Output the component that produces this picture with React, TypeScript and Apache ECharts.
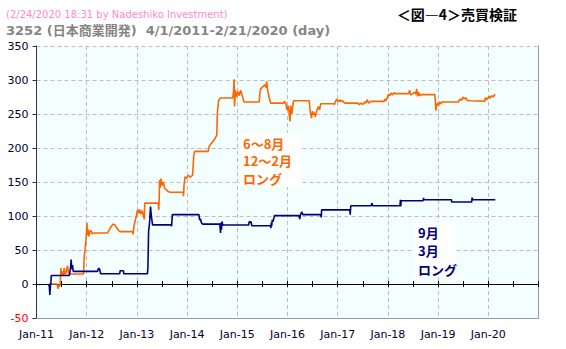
import React, { useEffect, useRef } from 'react';
import * as echarts from 'echarts';

// ---- data ----
const orangeDates: string[] = [
  '2011-04-01','2011-05-29','2011-06-08','2011-06-14','2011-06-22','2011-06-27','2011-07-02','2011-07-09','2011-07-14','2011-07-21',
  '2011-07-27','2011-08-03','2011-08-09','2011-08-15','2011-08-20','2011-08-26','2011-08-31','2011-12-09','2011-12-14','2011-12-27',
  '2012-01-03','2012-01-06','2012-01-13','2012-01-18','2012-01-24','2012-02-01','2012-02-10','2012-02-25','2012-05-31','2012-06-10',
  '2012-06-20','2012-07-02','2012-07-12','2012-07-25','2012-08-05','2012-08-20','2012-08-31','2012-11-30','2012-12-05','2012-12-10',
  '2012-12-18','2012-12-28','2013-01-05','2013-01-12','2013-01-20','2013-01-28','2013-02-08','2013-02-18','2013-02-24','2013-02-27',
  '2013-06-05','2013-06-09','2013-06-12','2013-06-15','2013-06-20','2013-06-25','2013-07-03','2013-07-12','2013-07-22','2013-08-02',
  '2013-08-16','2013-08-31','2013-12-03','2013-12-06','2013-12-10','2013-12-18','2013-12-26','2014-01-10','2014-01-24','2014-02-10',
  '2014-02-18','2014-02-25','2014-06-03','2014-06-10','2014-06-20','2014-07-09','2014-07-20','2014-08-05','2014-08-09','2014-08-18',
  '2014-08-31','2014-11-28','2014-12-04','2014-12-09','2014-12-12','2014-12-18','2014-12-25','2015-01-05','2015-01-15','2015-01-25',
  '2015-02-05','2015-02-15','2015-02-20','2015-06-09','2015-06-14','2015-06-19','2015-07-05','2015-07-20','2015-07-28','2015-08-02',
  '2015-08-10','2015-08-21','2015-08-31','2015-12-05','2015-12-10','2015-12-20','2015-12-28','2016-01-08','2016-01-19','2016-01-25',
  '2016-02-02','2016-02-10','2016-02-15','2016-06-08','2016-06-12','2016-06-17','2016-06-24','2016-07-01','2016-07-08','2016-07-15',
  '2016-07-22','2016-08-01','2016-08-13','2016-08-22','2016-08-30','2016-12-05','2016-12-08','2016-12-15','2016-12-24','2017-01-05',
  '2017-01-15','2017-01-25','2017-02-05','2017-02-15','2017-02-22','2017-05-30','2017-06-03','2017-06-20','2017-07-05','2017-07-15',
  '2017-07-25','2017-08-03','2017-08-15','2017-08-31','2017-12-05','2017-12-10','2017-12-20','2018-01-05','2018-01-15','2018-01-25',
  '2018-02-05','2018-02-15','2018-02-25','2018-06-01','2018-06-08','2018-06-15','2018-07-01','2018-07-15','2018-07-25','2018-07-29',
  '2018-08-05','2018-08-12','2018-08-20','2018-08-31','2018-12-08','2018-12-12','2018-12-16','2018-12-20','2018-12-28','2019-01-05',
  '2019-01-10','2019-01-20','2019-02-01','2019-02-10','2019-05-27','2019-06-10','2019-06-20','2019-07-01','2019-07-10','2019-07-20',
  '2019-08-01','2019-08-20','2019-12-07','2019-12-10','2019-12-20','2020-01-05','2020-01-15','2020-01-25','2020-02-05','2020-02-15',
  '2020-02-21'
];
const orangeValues: number[] = [
  0, 0, -7, -1, -3, 23.5, 12, 18.5, 13, 23.5,
  14, 16, 22, 27, 17, 15, 14.7, 14.7, 40, 65,
  90, 72, 80, 70, 77, 79, 74, 75, 75, 78,
  82, 86, 88, 87, 83, 79, 77, 77, 73, 84,
  92, 100, 109, 104, 110, 103, 108, 100, 95, 119,
  119, 109, 124, 153, 142, 155, 145, 150, 141, 139,
  136, 135, 135, 129, 146, 158, 155, 160, 157, 160,
  188, 195, 195, 202, 205, 210, 213, 219, 251, 270,
  273.5, 273.5, 281, 301, 261, 285, 275, 283, 277, 285,
  278, 270, 267.6, 267.6, 280, 287, 290, 293, 289, 298,
  285, 273.5, 266, 266, 268.5, 266, 256, 262, 239, 262,
  250, 265, 269.5, 269.5, 258, 251.5, 244, 254, 249, 252,
  246, 255, 261, 256, 265, 265, 263.5, 268, 272, 268,
  271, 268, 270, 267, 266, 266, 263.5, 266, 264, 268,
  266, 271, 266, 268.5, 268.5, 272, 270, 279, 277, 281,
  278, 281.5, 280, 280, 285, 278, 280, 282, 279, 287,
  276, 282, 277, 278.5, 278.5, 268, 255, 263, 266, 262,
  268, 265, 268, 267.6, 267.6, 272, 270, 275, 272, 274,
  270, 269.5, 269, 274, 271, 276, 273, 277, 275, 278,
  279
];

const blueDates: string[] = [
  '2011-04-01','2011-04-05','2011-04-08','2011-04-12','2011-04-15','2011-04-18','2011-04-20','2011-08-28','2011-09-01','2011-09-06',
  '2011-09-10','2011-09-14','2011-09-20','2011-09-25','2012-03-20','2012-03-25','2012-03-29','2012-04-05','2012-04-12','2012-08-28',
  '2012-09-01','2012-09-25','2012-09-28','2013-03-18','2013-03-22','2013-03-27','2013-04-03','2013-04-10','2013-04-16','2013-04-25',
  '2013-09-06','2013-09-10','2013-09-16','2014-03-28','2014-04-02','2014-04-08','2014-04-15','2014-04-25','2014-08-27','2014-09-01',
  '2014-09-04','2014-09-08','2014-09-12','2014-09-16','2014-09-20','2015-03-25','2015-03-29','2015-04-05','2015-04-10','2015-04-17',
  '2015-08-31','2015-09-02','2015-09-05','2015-09-08','2015-09-12','2015-09-18','2015-09-28','2016-03-25','2016-03-30','2016-04-05',
  '2016-04-15','2016-04-22','2016-08-31','2016-09-03','2016-09-06','2017-03-30','2017-04-02','2017-04-06','2017-09-01','2017-09-06',
  '2017-09-12','2018-03-30','2018-04-02','2018-04-04','2018-04-08','2018-09-14','2018-09-17','2018-09-20','2019-04-08','2019-04-10',
  '2019-09-02','2019-09-05','2019-09-10','2020-02-21'
];
const blueValues: number[] = [
  0, -5, -16, -3, 0, 11, 12.6, 12.6, 18, 25,
  36, 22, 28, 18.5, 18.5, 22, 23.5, 21, 15, 15,
  19.5, 19.5, 15, 15, 23.5, 77, 90, 114, 100, 87,
  87, 85, 102, 102, 94, 96, 90, 88, 88, 75,
  90, 80, 92, 88, 86.7, 86.7, 92, 90, 92, 85.7,
  85.7, 82, 90, 85, 94.5, 92, 100.5, 100.5, 95.6, 102,
  106, 102, 102, 98, 109, 109, 102, 115, 115, 119,
  115, 115, 124, 114, 122.5, 122.5, 126.5, 124, 124, 120.5,
  120.5, 127, 124, 124
];

const xYearMin = 2011;
const xYearMax = 2021;
const yMin = -50;
const yMax = 350;
const yStep = 50;

const headerNote = '(2/24/2020 18:31 by Nadeshiko Investment)';
const headerTitle = '3252 (日本商業開発)  4/1/2011-2/21/2020 (day)';
const headerRight = '＜図―4＞売買検証';
const orangeNote = ['6～8月', '12～2月', 'ロング'];
const blueNote = ['9月', '3月', 'ロング'];

function toYear(d: string): number {
  const [y, m, day] = d.split('-').map(Number);
  const start = Date.UTC(y, 0, 1);
  const end = Date.UTC(y + 1, 0, 1);
  return y + (Date.UTC(y, m - 1, day) - start) / (end - start);
}

const FONT = '"DejaVu Sans", Verdana, sans-serif';
const CJK = '"DejaVu Sans", "Noto Sans CJK JP", sans-serif';
const JP = '"Noto Sans CJK JP", sans-serif';

export default function App() {
  const ref = useRef<HTMLDivElement>(null);
  useEffect(() => {
    if (!ref.current) return;
    const chart = echarts.init(ref.current, undefined, { renderer: 'svg' });
    const orange = orangeDates.map((d, i) => [toYear(d), orangeValues[i]]);
    const blue = blueDates.map((d, i) => [toYear(d), blueValues[i]]);
    const grid = '#bdbdbd';
    const noteLines = (lines: string[], x: number, y0: number, step: number, color: string) =>
      lines.map((t, i) => ({
        type: 'text', x, y: y0 + i * step, z: 11,
        style: { text: t, fill: color, font: 'bold 13px ' + JP, textVerticalAlign: 'middle' },
      }));
    chart.setOption({
      animation: false,
      backgroundColor: '#ffffff',
      grid: { left: 36.5, right: 27.5, top: 46, bottom: 31, show: true, backgroundColor: '#F3FFFF', borderWidth: 0 },
      xAxis: [
        {
          type: 'value', min: xYearMin, max: xYearMax, interval: 1, position: 'bottom',
          axisLine: { onZero: false, lineStyle: { color: '#9a9a9a', width: 1 } },
          axisTick: { show: false },
          axisLabel: {
            formatter: (v: number) => 'Jan-' + String(Math.round(v)).slice(2),
            color: '#000033', fontSize: 11, fontFamily: FONT, margin: 11,
            showMinLabel: true, showMaxLabel: false,
          },
          splitLine: { show: true, lineStyle: { color: grid, type: [4, 3], width: 1 } },
        },
        {
          type: 'value', min: xYearMin, max: xYearMax, interval: 0.5, position: 'bottom',
          axisLine: { onZero: true, onZeroAxisIndex: 0, lineStyle: { color: '#000000', width: 1.2 } },
          axisTick: { show: true, length: 3, lineStyle: { color: '#000000', width: 1 } },
          axisLabel: { show: false },
          splitLine: { show: false },
        },
        {
          type: 'value', min: xYearMin, max: xYearMax, interval: 0.5, position: 'bottom',
          axisLine: { show: false, onZero: true, onZeroAxisIndex: 1 },
          axisTick: { show: true, inside: true, length: 3, lineStyle: { color: '#000000', width: 1 } },
          axisLabel: { show: false },
          splitLine: { show: false },
        },
      ],
      yAxis: [
        {
          type: 'value', min: yMin, max: yMax, interval: yStep,
          axisLine: { show: true, onZero: false, lineStyle: { color: '#333333', width: 1 } },
          axisTick: { show: true, length: 4, lineStyle: { color: '#333333' } },
          axisLabel: {
            color: (v: any) => (Number(v) < 0 ? '#FF0000' : '#000033'),
            fontSize: 11, fontFamily: FONT, margin: 8,
          },
          splitLine: { show: true, lineStyle: { color: grid, type: [4, 3], width: 1 } },
        },
        {
          type: 'value', min: yMin, max: yMax, interval: yStep, position: 'right',
          axisLine: { show: true, onZero: false, lineStyle: { color: '#9a9a9a', width: 1 } },
          axisTick: { show: false },
          axisLabel: { show: false },
          splitLine: { show: false },
        },
      ],
      series: [
        {
          type: 'line', xAxisIndex: 0, yAxisIndex: 0, data: orange, showSymbol: false, symbol: 'none',
          lineStyle: { color: '#FF6600', width: 1.6 }, itemStyle: { color: '#FF6600' }, silent: true,
        },
        {
          type: 'line', xAxisIndex: 0, yAxisIndex: 0, data: blue, showSymbol: false, symbol: 'none',
          lineStyle: { color: '#000080', width: 1.6 }, itemStyle: { color: '#000080' }, silent: true,
        },
      ],
      graphic: [
        { type: 'text', left: 6, top: 9, style: { text: headerNote, fill: '#FF8ACB', font: '10px ' + FONT } },
        { type: 'text', left: 6, top: 24, style: { text: headerTitle, fill: '#858585', font: 'bold 13px ' + CJK } },
        { type: 'text', right: 49, top: 7, style: { text: headerRight, fill: '#000000', font: 'bold 14px ' + JP } },
        { type: 'rect', shape: { x: 240, y: 133, width: 61, height: 54 }, style: { fill: '#ffffff' }, z: 10 },
        ...noteLines(orangeNote, 243, 143, 17.5, '#FF6600'),
        { type: 'rect', shape: { x: 414, y: 222, width: 42, height: 55 }, style: { fill: '#ffffff' }, z: 10 },
        ...noteLines(blueNote, 418, 232, 18.5, '#000080'),
      ],
    });
    return () => chart.dispose();
  }, []);
  return <div ref={ref} style={{ position: 'absolute', left: 0, top: 0, width: 566, height: 349 }} />;
}
